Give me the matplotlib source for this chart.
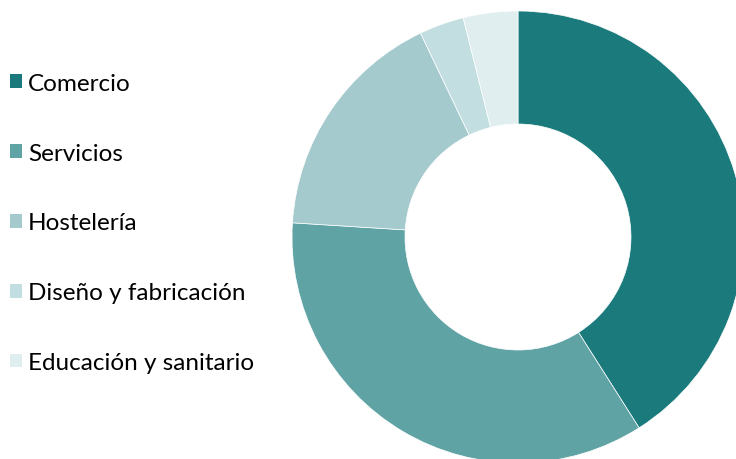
import matplotlib
matplotlib.use("Agg")
import matplotlib.pyplot as plt
from matplotlib.patches import Patch

plt.rcParams["font.family"] = ["Lato", "DejaVu Sans"]

# datos
sectores = ["Comercio", "Servicios", "Hostelería", "Diseño y fabricación",
            "Educación y sanitario"]
porcentajes = [41.0, 35.0, 16.9, 3.2, 3.9]
colores = ["#1a7a7c", "#5fa3a5", "#a5cace", "#c3dee0", "#e0eef0"]

fig = plt.figure(figsize=(7.36, 4.6), dpi=100)
ax = fig.add_axes([292 / 736, -4 / 460, 452 / 736, 452 / 460])

ax.pie(
    porcentajes,
    colors=colores,
    startangle=90,
    counterclock=False,
    radius=1.0,
    wedgeprops=dict(width=0.5, edgecolor="white", linewidth=0.5),
)
ax.set_xlim(-1, 1)
ax.set_ylim(-1, 1)
ax.axis("off")

handles = [Patch(facecolor=c, edgecolor="none", label=s)
           for s, c in zip(sectores, colores)]
fig.legend(
    handles=handles,
    loc="upper left",
    bbox_to_anchor=(0.0, 1 - 64 / 460),
    frameon=False,
    fontsize=17.5,
    handlelength=0.5,
    handleheight=0.5,
    handletextpad=0.25,
    labelspacing=2.01,
    borderaxespad=0.0,
)

fig.savefig("out.png", dpi=100)
